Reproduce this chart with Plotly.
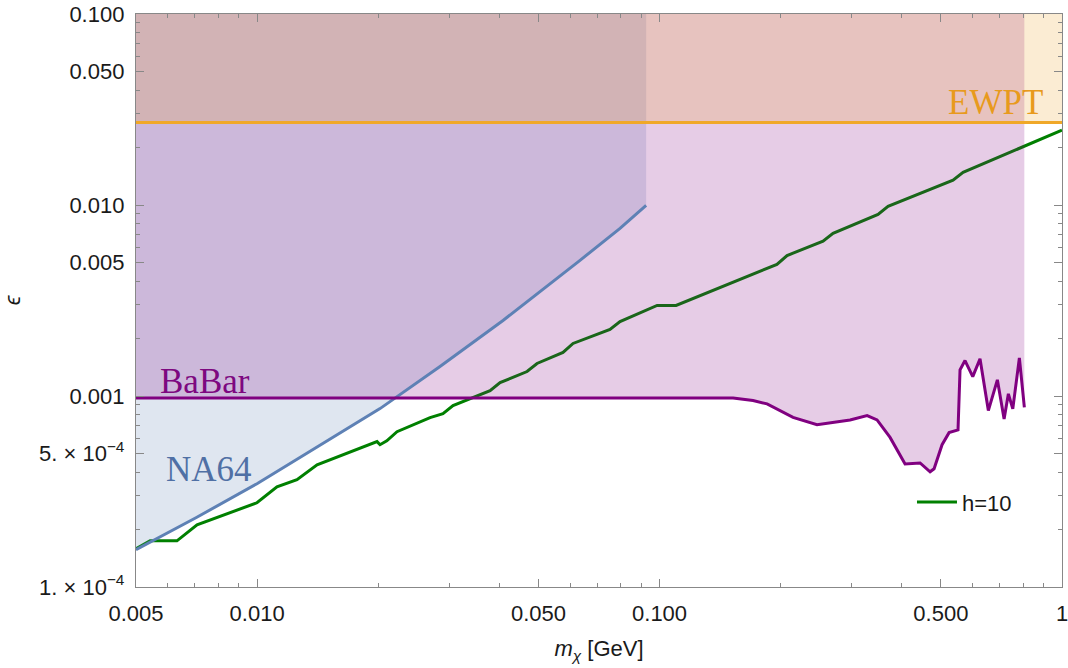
import plotly.graph_objects as go

# ---------------- data ----------------
x_min, x_max = 0.005, 1.0
y_min, y_max = 1e-4, 0.1

# h = 10 curve
h10_x = [0.005, 0.00542, 0.00632, 0.00709, 0.00999, 0.0112, 0.01256, 0.01409,
         0.01986, 0.0202, 0.0210, 0.02226, 0.0269, 0.02896, 0.03067, 0.03792,
         0.04015, 0.04685, 0.0496, 0.05755, 0.06095, 0.0753, 0.07975, 0.0986,
         0.1099, 0.1957, 0.2074, 0.2548, 0.2698, 0.349, 0.3696, 0.5361,
         0.5678, 1.0]
h10_y = [1.585e-4, 1.745e-4, 1.745e-4, 2.118e-4, 2.76e-4, 3.35e-4, 3.65e-4, 4.36e-4,
         5.77e-4, 5.56e-4, 5.83e-4, 6.50e-4, 7.71e-4, 8.09e-4, 8.91e-4, 1.067e-3,
         1.175e-3, 1.343e-3, 1.48e-3, 1.69e-3, 1.884e-3, 2.23e-3, 2.455e-3, 2.98e-3,
         2.98e-3, 4.89e-3, 5.44e-3, 6.46e-3, 7.11e-3, 8.93e-3, 9.84e-3, 1.349e-2,
         1.483e-2, 2.466e-2]

# NA64 bound
na64_x = [0.005, 0.007046, 0.00999, 0.01433, 0.0202, 0.02847, 0.04083, 0.06343,
          0.07975, 0.0926]
na64_y = [1.567e-4, 2.304e-4, 3.472e-4, 5.50e-4, 8.59e-4, 1.426e-3, 2.486e-3,
          5.13e-3, 7.55e-3, 9.96e-3]

# BaBar bound
babar_x = [0.005, 0.1523, 0.1707, 0.185, 0.2146, 0.2462, 0.2974, 0.3279, 0.3471,
           0.3739, 0.4074, 0.444, 0.4701, 0.481, 0.5035, 0.5241, 0.5516, 0.558,
           0.5741, 0.6001, 0.6256, 0.6561, 0.6909, 0.718, 0.7358, 0.7546, 0.7836,
           0.8062]
babar_y = [9.77e-4, 9.77e-4, 9.46e-4, 9.09e-4, 7.73e-4, 7.08e-4, 7.49e-4, 7.89e-4,
           7.49e-4, 6.07e-4, 4.41e-4, 4.46e-4, 4.01e-4, 4.16e-4, 5.56e-4, 6.43e-4,
           6.64e-4, 1.370e-3, 1.533e-3, 1.264e-3, 1.565e-3, 8.39e-4, 1.215e-3,
           7.58e-4, 1.026e-3, 8.56e-4, 1.584e-3, 8.72e-4]

# EWPT bound
ewpt_eps = 0.027

x_tickvals = [0.005, 0.01, 0.05, 0.1, 0.5, 1.0]
x_ticktext = ["0.005", "0.010", "0.050", "0.100", "0.500", "1"]
x_minor = [0.006, 0.007, 0.008, 0.009, 0.02, 0.03, 0.04, 0.06, 0.07, 0.08, 0.09,
           0.2, 0.3, 0.4, 0.6, 0.7, 0.8, 0.9]
y_tickvals = [1e-4, 5e-4, 1e-3, 5e-3, 1e-2, 5e-2, 1e-1]
y_ticktext = ["1. \u00d7 10<sup>\u22124</sup>", "5. \u00d7 10<sup>\u22124</sup>",
              "0.001", "0.005", "0.010", "0.050", "0.100"]
y_minor = [2e-4, 3e-4, 4e-4, 6e-4, 7e-4, 8e-4, 9e-4,
           2e-3, 3e-3, 4e-3, 6e-3, 7e-3, 8e-3, 9e-3,
           2e-2, 3e-2, 4e-2, 6e-2, 7e-2, 8e-2, 9e-2]

# ---------------- colours ----------------
C_GREEN = "rgb(0,128,0)"
C_NA64 = "rgb(94,129,181)"
C_BABAR = "rgb(128,0,128)"
C_EWPT = "rgb(240,168,40)"

fig = go.Figure()

# green line (drawn underneath the shaded regions)
fig.add_trace(go.Scatter(x=h10_x, y=h10_y, mode="lines", name="h=10",
                         line=dict(color=C_GREEN, width=3), showlegend=True))

# shaded regions
fig.add_trace(go.Scatter(x=na64_x + [na64_x[-1], x_min],
                         y=na64_y + [y_max, y_max],
                         fill="toself", fillcolor="rgba(94,129,181,0.2)",
                         mode="none", showlegend=False, hoverinfo="skip"))
fig.add_trace(go.Scatter(x=babar_x + [babar_x[-1], x_min],
                         y=babar_y + [y_max, y_max],
                         fill="toself", fillcolor="rgba(128,0,128,0.2)",
                         mode="none", showlegend=False, hoverinfo="skip"))
fig.add_trace(go.Scatter(x=[x_min, x_max, x_max, x_min],
                         y=[ewpt_eps, ewpt_eps, y_max, y_max],
                         fill="toself", fillcolor="rgba(237,161,33,0.2)",
                         mode="none", showlegend=False, hoverinfo="skip"))

# boundary lines
fig.add_trace(go.Scatter(x=na64_x, y=na64_y, mode="lines",
                         line=dict(color=C_NA64, width=3), showlegend=False))
fig.add_trace(go.Scatter(x=babar_x, y=babar_y, mode="lines",
                         line=dict(color=C_BABAR, width=3), showlegend=False))
fig.add_trace(go.Scatter(x=[x_min, x_max], y=[ewpt_eps, ewpt_eps], mode="lines",
                         line=dict(color=C_EWPT, width=3), showlegend=False))

# labels
serif = "Liberation Serif, Times New Roman, serif"
fig.add_annotation(text="BaBar", xref="paper", yref="paper", x=0.024, y=0.3595,
                   xanchor="left", yanchor="middle", showarrow=False,
                   font=dict(family=serif, size=35, color="rgb(125,8,128)"))
fig.add_annotation(text="NA64", xref="paper", yref="paper", x=0.030, y=0.2042,
                   xanchor="left", yanchor="middle", showarrow=False,
                   font=dict(family=serif, size=35, color="rgb(80,112,165)"))
fig.add_annotation(text="EWPT", xref="paper", yref="paper", x=0.9815, y=0.8447,
                   xanchor="right", yanchor="middle", showarrow=False,
                   font=dict(family=serif, size=35, color="rgb(232,154,28)"))

sans = "Liberation Sans, Arial, sans-serif"
axis_common = dict(type="log", showgrid=False, zeroline=False, showline=True,
                   linecolor="#888888", linewidth=1.3, mirror="ticks",
                   ticks="inside", ticklen=8, tickcolor="#888888", tickwidth=1,
                   ticklabeloverflow="allow",
                   tickfont=dict(family=sans, size=22, color="#1a1a1a"))

fig.update_xaxes(**axis_common, range=[-2.30103, 0.00001],
                 tickmode="array", tickvals=x_tickvals, ticktext=x_ticktext,
                 minor=dict(tickmode="array", tickvals=x_minor, ticks="inside",
                            ticklen=4, tickcolor="#888888", showgrid=False),
                 ticklabelstandoff=6,
                 title=dict(text="<i>m</i><sub><i>\u03c7</i></sub> [GeV]",
                            font=dict(family=sans, size=22, color="#1a1a1a"),
                            standoff=16))
fig.update_yaxes(**axis_common, range=[-4.00001, -0.99999],
                 tickmode="array", tickvals=y_tickvals, ticktext=y_ticktext,
                 minor=dict(tickmode="array", tickvals=y_minor, ticks="inside",
                            ticklen=4, tickcolor="#888888", showgrid=False),
                 ticklabelstandoff=6,
                 title=dict(text="<i>\u03f5</i>",
                            font=dict(family=sans, size=22, color="#1a1a1a"),
                            standoff=18))

fig.update_layout(
    width=1068, height=668,
    margin=dict(l=136, r=6, t=14, b=81, autoexpand=False),
    paper_bgcolor="white", plot_bgcolor="white",
    legend=dict(x=0.838, y=0.148, xanchor="left", yanchor="middle",
                bgcolor="rgba(0,0,0,0)", font=dict(family=sans, size=22, color="#1a1a1a"),
                itemwidth=40),
)

fig.write_html("out.html")
